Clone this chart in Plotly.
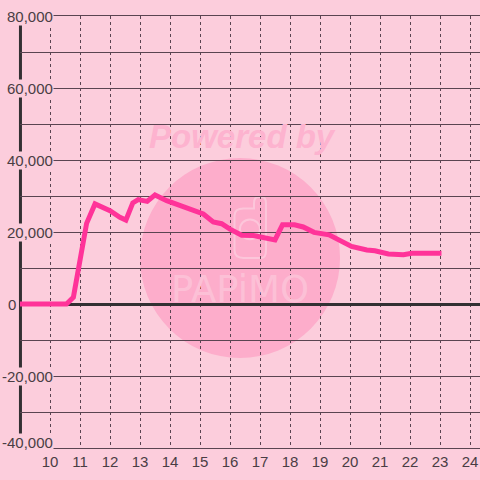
import plotly.graph_objects as go

hours = [9.0, 10.55, 10.78, 11.22, 11.5, 12.0, 12.33, 12.53, 12.76, 12.94, 13.24, 13.5,
         13.89, 14.11, 14.44, 14.8, 15.11, 15.44, 15.72, 16.0, 16.39, 16.78, 17.11, 17.5,
         17.75, 18.15, 18.44, 18.8, 19.3, 19.67, 20.05, 20.56, 20.83, 21.28, 21.78, 22.06,
         22.67, 23.05]
values = [0, 0, 1900, 22400, 27800, 25900, 24100, 23300, 28100, 29000, 28500, 30300,
          28700, 28000, 27200, 25900, 25000, 22800, 22300, 20800, 19100, 19000, 18500, 17800,
          22000, 22000, 21400, 19900, 19200, 17600, 16000, 15000, 14800, 13900, 13700, 14100,
          14100, 14100]

x_ticks = list(range(10, 25))
y_label_vals = [80000, 60000, 40000, 20000, 0, -20000, -40000]
y_label_text = ["80,000", "60,000", "40,000", "20,000", "0", "-20,000", "-40,000"]

BG = "#fccddc"
DARK = "#4a3d44"
GRID = "#5a4451"
FONT = "Liberation Sans, Arial, sans-serif"

fig = go.Figure()
fig.add_trace(go.Scatter(x=hours, y=values, mode="lines",
                         line=dict(color="#ff3399", width=5), hoverinfo="skip"))

shapes = []
# watermark circle (pixel-derived data coords)
shapes.append(dict(type="circle", xref="x", yref="y", x0=13.0, x1=19.667,
                   y0=-15000, y1=40556, fillcolor="#fdadcb", line=dict(width=0), layer="below"))
# phone icon outline
shapes.append(dict(type="path", xref="x", yref="y",
                   path="M 16.15 24500 L 16.15 15000 Q 16.15 12800 16.45 12800 L 17.05 12800 "
                        "Q 17.2 12800 17.2 15000 L 17.2 28000 Q 17.2 29700 17.05 29700 L 16.95 29700 "
                        "Q 16.8 29700 16.8 28000 L 16.8 26500 L 16.45 26500 Q 16.15 26500 16.15 24500 Z",
                   line=dict(color="#fcc6da", width=2), layer="below"))
shapes.append(dict(type="circle", xref="x", yref="y", x0=16.33, x1=17.0,
                   y0=18000, y1=23500, line=dict(color="#fcc6da", width=2), layer="below"))
# thick vertical axis
shapes.append(dict(type="line", xref="paper", yref="paper", x0=0.001, x1=0.001, y0=0, y1=1,
                   line=dict(color="#333033", width=3), layer="between"))

fig.update_layout(shapes=shapes)

annotations = []
annotations.append(dict(text="<b><i>Powered by</i></b>", xref="x", yref="y", x=16.4, y=46500,
                        showarrow=False, font=dict(family="Liberation Sans, Arial", size=33,
                                                    color="#fdb3cf")))
annotations.append(dict(text="PAPiMO", xref="x", yref="y", x=16.33, y=4000,
                        showarrow=False, font=dict(family="DejaVu Sans, sans-serif", size=37,
                                                    color="#fcc0d6")))
for v, t in zip(y_label_vals, y_label_text):
    if t == "0":
        annotations.append(dict(text=t, xref="paper", yref="y", x=0, y=v, xanchor="right",
                                xshift=-2, yanchor="middle", showarrow=False,
                                font=dict(family=FONT, size=15, color=DARK)))
    else:
        annotations.append(dict(text=t, xref="paper", yref="y", x=0, y=v, xanchor="right",
                                xshift=34, yshift=(6 if v == -40000 else 0),
                                yanchor="middle", showarrow=False, bgcolor=BG,
                                borderpad=0,
                                font=dict(family=FONT, size=15, color=DARK)))
fig.update_layout(annotations=annotations)

fig.update_layout(
    width=480, height=480,
    margin=dict(l=20, r=0, t=16, b=32, autoexpand=False),
    paper_bgcolor=BG, plot_bgcolor=BG,
    showlegend=False,
    font=dict(family=FONT, size=15, color=DARK),
    xaxis=dict(range=[9.0, 24.333], tickvals=x_ticks, ticktext=[str(t) for t in x_ticks],
               showgrid=True, gridcolor=GRID, gridwidth=1, griddash="dot",
               showline=True, linecolor=GRID, linewidth=1, mirror=True, automargin=False,
               zeroline=False, ticks="", tickfont=dict(size=15, color=DARK), fixedrange=True),
    yaxis=dict(range=[-40000, 80000], dtick=10000, tick0=0, showticklabels=False,
               showgrid=True, gridcolor=GRID, gridwidth=1, automargin=False,
               zeroline=True, zerolinecolor="#333033", zerolinewidth=3,
               showline=False, ticks="", fixedrange=True),
)

fig.write_html("out.html", config={"displayModeBar": False},
               post_script="document.body.style.margin='0';document.body.style.background='%s';" % BG)
